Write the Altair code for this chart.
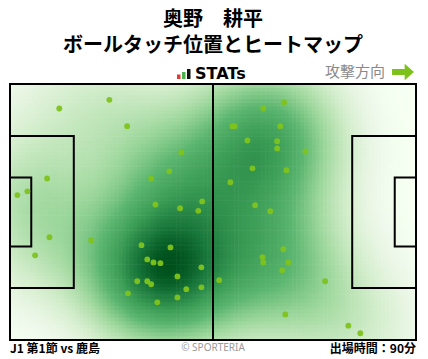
import altair as alt
import pandas as pd

# ---- data (pitch metres: x 0..105 attack to the right, y 0..68 bottom->top) ----
touch_x = [12.75, 25.7, 9.6, 4.5, 1.9, 30.3, 44.3, 41.2, 36.5, 37.6, 44.0, 48.7, 49.7,
           10.2, 6.5, 21.0, 34.0, 41.5, 35.5, 37.1, 38.9, 49.5, 43.3, 32.9, 35.5, 36.5,
           45.6, 49.5, 30.5, 43.3, 38.1,
           70.9, 65.5, 57.5, 58.1, 69.9, 61.4, 69.1, 69.1, 76.4, 62.7, 71.5, 57.0, 63.4,
           67.3, 70.7, 65.3, 65.5, 72.0, 70.4, 54.1, 71.2, 81.5, 87.5, 90.6]
touch_y = [61.5, 63.8, 42.9, 39.5, 38.5, 56.8, 49.9, 44.8, 42.9, 36.0, 35.0, 34.3, 36.8,
           27.3, 22.5, 26.5, 25.2, 24.6, 21.4, 20.6, 20.4, 19.3, 16.9, 15.6, 15.6, 14.8,
           13.5, 14.0, 12.4, 11.3, 10.0,
           63.1, 61.5, 56.8, 56.8, 56.8, 53.0, 52.8, 50.9, 50.1, 45.6, 45.1, 41.9, 35.8,
           34.2, 24.1, 22.0, 20.6, 20.6, 18.5, 15.9, 6.8, 15.6, 3.8, 1.8]

box_x0 = [0, 0, 0, 88.5, 99.5]
box_x1 = [105, 16.5, 5.5, 105, 105]
box_y0 = [0, 13.84, 24.84, 13.84, 24.84]
box_y1 = [68, 54.16, 43.16, 54.16, 43.16]
halfway_x = [52.5]

title_lines = ["奥野　耕平", "ボールタッチ位置とヒートマップ"]
brand_text = ["STATs"]
direction_text = ["攻撃方向"]
footer_left = ["J1 第1節 vs 鹿島"]
footer_mid = ["© SPORTERIA"]
footer_right = ["出場時間：90分"]

pts = pd.DataFrame({"x": touch_x, "y": touch_y})
boxes = pd.DataFrame({"x0": box_x0, "x1": box_x1, "y0": box_y0, "y1": box_y1})
mid = pd.DataFrame({"x": halfway_x})

W, H = 406, 256
xs = alt.Scale(domain=[0, 105], nice=False, zero=False)
ys = alt.Scale(domain=[0, 68], nice=False, zero=False)
NX, NY, BW = 105, 68, 11.5

heat = (
    alt.Chart(pts)
    .transform_calculate(gx=f"sequence(0, {NX})")
    .transform_flatten(["gx"])
    .transform_calculate(gy=f"sequence(0, {NY})")
    .transform_flatten(["gy"])
    .transform_calculate(
        w=f"exp(-(pow(datum.x - (datum.gx + 0.5) * 105 / {NX}, 2) + pow(datum.y - (datum.gy + 0.5) * 68 / {NY}, 2)) / (2 * {BW} * {BW}))"
    )
    .transform_aggregate(d="sum(w)", groupby=["gx", "gy"])
    .transform_joinaggregate(dmax="max(d)")
    .transform_calculate(
        v="datum.d / datum.dmax",
        x0=f"datum.gx * 105 / {NX}",
        x1=f"(datum.gx + 1) * 105 / {NX} + 0.15",
        y0=f"datum.gy * 68 / {NY}",
        y1=f"(datum.gy + 1) * 68 / {NY} + 0.15",
    )
    .mark_rect(clip=True)
    .encode(
        x=alt.X("x0:Q", scale=xs, axis=None),
        x2="x1:Q",
        y=alt.Y("y0:Q", scale=ys, axis=None),
        y2="y1:Q",
        color=alt.Color(
            "v:Q",
            legend=None,
            scale=alt.Scale(
                domain=[0, 0.05, 0.16, 0.34, 0.52, 0.7, 0.87, 1.0],
                range=["#ffffff", "#eef8ea", "#d2edcb", "#9ad69a", "#5bb670", "#3a9c55", "#17763a", "#00501c"],
            ),
        ),
    )
)

lines = alt.Chart(boxes).mark_rect(filled=False, stroke="black", strokeWidth=2).encode(
    x=alt.X("x0:Q", scale=xs, axis=None), x2="x1:Q",
    y=alt.Y("y0:Q", scale=ys, axis=None), y2="y1:Q",
)
halfway = alt.Chart(mid).mark_rule(stroke="black", strokeWidth=2).encode(
    x=alt.X("x:Q", scale=xs, axis=None), y=alt.value(0), y2=alt.value(H)
)

dots = alt.Chart(pts).mark_circle(size=34, color="#7ec31c", opacity=0.95).encode(
    x=alt.X("x:Q", scale=xs, axis=None), y=alt.Y("y:Q", scale=ys, axis=None)
)

CJK = "Noto Sans CJK JP"
one = pd.DataFrame({"a": [1]})


def txt(values, x, y, size, weight="bold", color="#000", align="center", font=CJK):
    return alt.Chart(pd.DataFrame({"t": values})).mark_text(
        fontSize=size, fontWeight=weight, color=color, align=align, baseline="middle", font=font
    ).encode(text="t:N", x=alt.value(x), y=alt.value(y))


title = alt.Chart(one).mark_text(
    text=title_lines, fontSize=20, fontWeight="bold", color="#000", align="center",
    baseline="middle", font=CJK, lineHeight=26,
).encode(x=alt.value(203), y=alt.value(-64))
brand = txt(brand_text, 185, -10, 16, align="left", font="DejaVu Sans")
direction = txt(direction_text, 345, -12, 15, weight="normal", color="#8a8a8a")
f1 = txt(footer_left, 0, H + 9, 12, align="left")
f2 = txt(footer_mid, 203, H + 8, 10, weight="normal", color="#9a9a9a", font="Noto Sans")
f3 = txt(footer_right, 406, H + 9, 12, align="right")

bar_df = pd.DataFrame({"c": ["#e53935", "#4caf50", "#111111"], "x0": [167, 172, 177], "y0": [-9.5, -12, -15]})
bars = alt.Chart(bar_df).mark_rect().encode(
    x=alt.X("x0:Q", scale=None, axis=None), x2=alt.X2("x1:Q"),
    y=alt.Y("y0:Q", scale=None, axis=None), y2=alt.Y2("y1:Q"),
    color=alt.Color("c:N", scale=None),
).transform_calculate(x1="datum.x0 + 3.5", y1="-5")

arrow = alt.Chart(one).mark_point(
    shape="M-1,-0.28 L0.15,-0.28 L0.15,-0.75 L1,0 L0.15,0.75 L0.15,0.28 L-1,0.28 Z",
    filled=True, color="#7cc21a", opacity=1, size=480,
).encode(x=alt.value(393), y=alt.value(-12))

chart = alt.layer(
    heat, lines, halfway, dots, title, brand, bars, direction, arrow, f1, f2, f3
).properties(
    width=W, height=H,
    autosize=alt.AutoSizeParams(type="none"),
    padding={"left": 10, "top": 84, "right": 12, "bottom": 19},
    background="white",
).configure_view(stroke=None)

chart.save("out.html", embed_options={"renderer": "svg", "actions": False})
